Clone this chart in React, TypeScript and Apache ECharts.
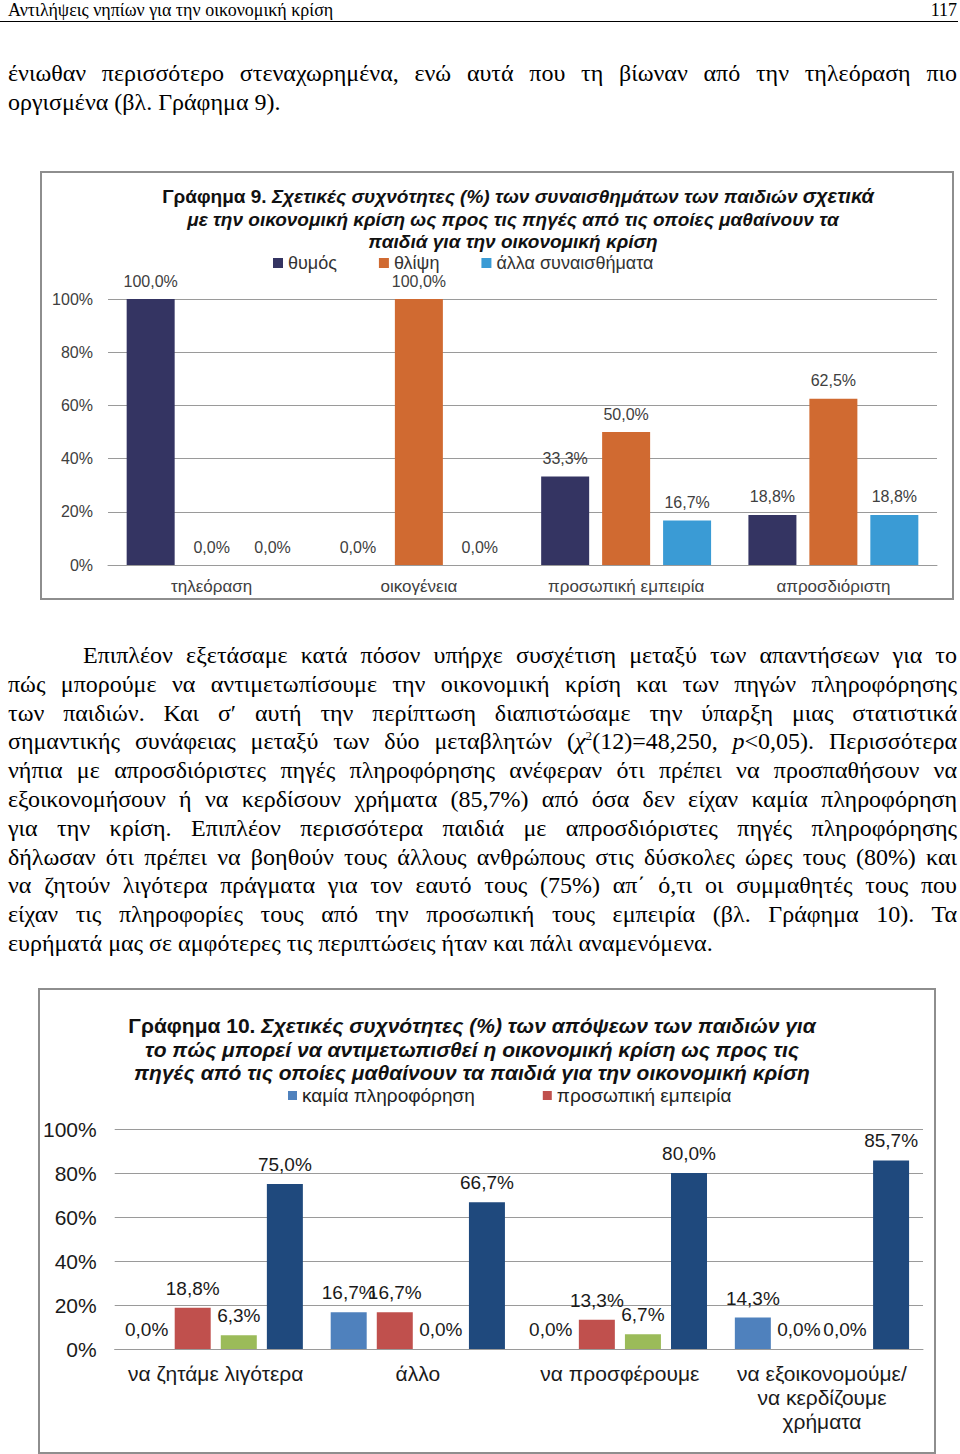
import React, { useEffect, useRef } from "react";
import * as echarts from "echarts";

// ---------- data ----------
const chart9Categories = ["τηλεόραση", "οικογένεια", "προσωπική εμπειρία", "απροσδιόριστη"];
const chart9SeriesNames = ["θυμός", "θλίψη", "άλλα συναισθήματα"];
const chart9Anger = [100, 0, 33.3, 18.8];
const chart9Sadness = [0, 100, 50, 62.5];
const chart9Other = [0, 0, 16.7, 18.8];

const chart10Categories = [
  "να ζητάμε λιγότερα",
  "άλλο",
  "να προσφέρουμε",
  "να εξοικονομούμε/\nνα κερδίζουμε\nχρήματα",
];
const chart10SeriesNames = ["καμία πληροφόρηση", "προσωπική εμπειρία", "οικογένεια", "απροσδιόριστη"];
const chart10NoInfo = [0, 16.7, 0, 14.3];
const chart10Personal = [18.8, 16.7, 13.3, 0];
const chart10Family = [6.3, 0, 6.7, 0];
const chart10Unspecified = [75, 66.7, 80, 85.7];

const yMin = 0;
const yMax = 100;
const yStep = 20;

// ---------- styles ----------
const SANS = '"Liberation Sans", Arial, sans-serif';
const NARROW = '"Liberation Sans Narrow", "Liberation Sans", Arial, sans-serif';
const SERIF = '"Liberation Serif", "Times New Roman", serif';

const fmt = (v: number) => v.toFixed(1).replace(".", ",") + "%";

function useChart(build: () => any) {
  const ref = useRef<HTMLDivElement>(null);
  useEffect(() => {
    if (!ref.current) return;
    const chart = echarts.init(ref.current, undefined, { renderer: "svg" });
    chart.setOption(build());
    return () => chart.dispose();
  }, []);
  return ref;
}

function titleLine(x: number, y: number, text: string, rich: any) {
  return {
    type: "text",
    x,
    y,
    style: {
      text,
      rich,
      align: "center",
      verticalAlign: "middle",
      textAlign: "center",
      textVerticalAlign: "middle",
      fill: "#111",
    },
  };
}

function chart9Option() {
  const rich = {
    a: { fontFamily: NARROW, fontSize: 19, fontWeight: "bold", fontStyle: "normal", color: "#111" },
    b: { fontFamily: NARROW, fontSize: 19, fontWeight: "bold", fontStyle: "italic", color: "#111" },
    c: { fontFamily: NARROW, fontSize: 20, fontWeight: "bold", fontStyle: "italic", color: "#000" },
  };
  const label = {
    show: true,
    position: "top",
    distance: 10,
    formatter: (p: any) => fmt(p.value),
    fontFamily: NARROW,
    fontSize: 16,
    color: "#404040",
  };
  const colors = ["#343462", "#D06A31", "#3A9BD5"];
  const values = [chart9Anger, chart9Sadness, chart9Other];
  return {
    animation: false,
    backgroundColor: "#fff",
    legend: {
      data: chart9SeriesNames,
      left: 231,
      top: 81,
      padding: 0,
      icon: "rect",
      itemWidth: 10,
      itemHeight: 10,
      itemGap: 42,
      textStyle: { fontFamily: NARROW, fontSize: 18, color: "#333" },
    },
    graphic: [
      titleLine(476, 23, "{a|Γράφημα 9. }{b|Σχετικές συχνότητες (%) των συναισθημάτων των παιδιών }{c|σχετικά}", rich),
      titleLine(471, 46, "{b|με την οικονομική κρίση ως προς τις πηγές από τις οποίες μαθαίνουν τα}", rich),
      titleLine(471, 68, "{b|παιδιά για την οικονομική κρίση}", rich),
    ],
    grid: { left: 66, right: 15, top: 126, bottom: 33 },
    xAxis: {
      type: "category",
      data: chart9Categories,
      axisTick: { show: false },
      axisLine: { lineStyle: { color: "#9a9a9a", width: 1 } },
      axisLabel: { fontFamily: NARROW, fontSize: 17, color: "#404040", margin: 13 },
    },
    yAxis: {
      type: "value",
      min: yMin,
      max: yMax,
      interval: yStep,
      axisLine: { show: false },
      axisTick: { show: false },
      axisLabel: { formatter: "{value}%", fontFamily: NARROW, fontSize: 16, color: "#404040", margin: 15 },
      splitLine: { lineStyle: { color: "#9a9a9a", width: 1 } },
    },
    series: chart9SeriesNames.map((name, i) => ({
      name,
      type: "bar",
      data: values[i],
      barWidth: 48,
      barGap: "27%",
      itemStyle: { color: colors[i] },
      label,
    })),
  };
}

function chart10Option() {
  const rich = {
    a: { fontFamily: SANS, fontSize: 21, fontWeight: "bold", fontStyle: "normal", color: "#111" },
    b: { fontFamily: SANS, fontSize: 21, fontWeight: "bold", fontStyle: "italic", color: "#111" },
  };
  const label = {
    show: true,
    position: "top",
    distance: 10,
    formatter: (p: any) => fmt(p.value),
    fontFamily: SANS,
    fontSize: 19,
    color: "#1a1a1a",
  };
  const colors = ["#4F81BD", "#C0504D", "#9BBB59", "#1F497D"];
  const values = [chart10NoInfo, chart10Personal, chart10Family, chart10Unspecified];
  return {
    animation: false,
    backgroundColor: "#fff",
    legend: {
      data: chart10SeriesNames.slice(0, 2),
      left: 248,
      top: 96,
      padding: 0,
      icon: "rect",
      itemWidth: 9,
      itemHeight: 9,
      itemGap: 68,
      textStyle: { fontFamily: SANS, fontSize: 19, color: "#222" },
    },
    graphic: [
      titleLine(432, 35, "{a|Γράφημα 10. }{b|Σχετικές συχνότητες (%) των απόψεων των παιδιών για}", rich),
      titleLine(432, 59, "{b|το πώς μπορεί να αντιμετωπισθεί η οικονομική κρίση ως προς τις}", rich),
      titleLine(432, 82, "{b|πηγές από τις οποίες μαθαίνουν τα παιδιά για την οικονομική κρίση}", rich),
    ],
    grid: { left: 73, right: 11, top: 139, bottom: 103 },
    xAxis: {
      type: "category",
      data: chart10Categories,
      axisTick: { show: false },
      axisLine: { lineStyle: { color: "#9a9a9a", width: 1 } },
      axisLabel: { fontFamily: SANS, fontSize: 21, lineHeight: 24, color: "#1a1a1a", margin: 12, interval: 0 },
    },
    yAxis: {
      type: "value",
      min: yMin,
      max: yMax,
      interval: yStep,
      axisLine: { show: false },
      axisTick: { show: false },
      axisLabel: { formatter: "{value}%", fontFamily: SANS, fontSize: 21, color: "#1a1a1a", margin: 18 },
      splitLine: { lineStyle: { color: "#9a9a9a", width: 1 } },
    },
    series: chart10SeriesNames.map((name, i) => ({
      name,
      type: "bar",
      data: values[i],
      barWidth: 36,
      barGap: "28%",
      itemStyle: { color: colors[i] },
      label,
    })),
  };
}

const lineStyle = (last: boolean, indent = 0): React.CSSProperties => ({
  textAlign: "justify",
  textAlignLast: last ? "left" : "justify",
  whiteSpace: "nowrap",
  textIndent: indent,
});

const para1: React.ReactNode[] = [
  "ένιωθαν περισσότερο στεναχωρημένα, ενώ αυτά που τη βίωναν από την τηλεόραση πιο",
  "οργισμένα (βλ. Γράφημα 9).",
];

const para2: React.ReactNode[] = [
  "Επιπλέον εξετάσαμε κατά πόσον υπήρχε συσχέτιση μεταξύ των απαντήσεων για το",
  "πώς μπορούμε να αντιμετωπίσουμε την οικονομική κρίση και των πηγών πληροφόρησης",
  "των παιδιών. Και σ′ αυτή την περίπτωση διαπιστώσαμε την ύπαρξη μιας στατιστικά",
  <>
    σημαντικής συνάφειας μεταξύ των δύο μεταβλητών (<i>χ</i>
    <sup style={{ fontSize: "0.55em", lineHeight: 0 }}>2</sup>(12)=48,250, <i>p</i>&lt;0,05). Περισσότερα
  </>,
  "νήπια με απροσδιόριστες πηγές πληροφόρησης ανέφεραν ότι πρέπει να προσπαθήσουν να",
  "εξοικονομήσουν ή να κερδίσουν χρήματα (85,7%) από όσα δεν είχαν καμία πληροφόρηση",
  "για την κρίση. Επιπλέον περισσότερα παιδιά με απροσδιόριστες πηγές πληροφόρησης",
  "δήλωσαν ότι πρέπει να βοηθούν τους άλλους ανθρώπους στις δύσκολες ώρες τους (80%) και",
  "να ζητούν λιγότερα πράγματα για τον εαυτό τους (75%) απ΄ ό,τι οι συμμαθητές τους που",
  "είχαν τις πληροφορίες τους από την προσωπική τους εμπειρία (βλ. Γράφημα 10). Τα",
  "ευρήματά μας σε αμφότερες τις περιπτώσεις ήταν και πάλι αναμενόμενα.",
];

const paraStyle = (top: number): React.CSSProperties => ({
  position: "absolute",
  left: 8,
  top,
  width: 949,
  fontFamily: SERIF,
  fontSize: 24,
  lineHeight: "28.8px",
  color: "#000",
});

export default function App() {
  const ref9 = useChart(chart9Option);
  const ref10 = useChart(chart10Option);
  return (
    <div
      style={{
        position: "absolute",
        left: 0,
        top: 0,
        width: 960,
        height: 1454,
        background: "#fff",
        overflow: "hidden",
      }}
    >
      <div
        style={{
          position: "absolute",
          left: 8,
          top: 0,
          fontFamily: SERIF,
          fontSize: 18,
          lineHeight: "20px",
          color: "#000",
        }}
      >
        Αντιλήψεις νηπίων για την οικονομική κρίση
      </div>
      <div
        style={{
          position: "absolute",
          right: 3,
          top: 0,
          fontFamily: SERIF,
          fontSize: 18,
          lineHeight: "20px",
          color: "#000",
        }}
      >
        117
      </div>
      <div style={{ position: "absolute", left: 0, top: 21, width: 958, height: 0, borderTop: "1.5px solid #000" }} />

      <div style={paraStyle(59)}>
        {para1.map((t, i) => (
          <div key={i} style={lineStyle(i === para1.length - 1)}>
            {t}
          </div>
        ))}
      </div>

      <div
        style={{
          position: "absolute",
          left: 40,
          top: 171,
          width: 914,
          height: 429,
          boxSizing: "border-box",
          border: "2px solid #8e8e8e",
          background: "#fff",
        }}
      >
        <div ref={ref9} style={{ width: 910, height: 425 }} />
      </div>

      <div style={paraStyle(641)}>
        {para2.map((t, i) => (
          <div key={i} style={lineStyle(i === para2.length - 1, i === 0 ? 75 : 0)}>
            {t}
          </div>
        ))}
      </div>

      <div
        style={{
          position: "absolute",
          left: 38,
          top: 988,
          width: 898,
          height: 466,
          boxSizing: "border-box",
          border: "2px solid #8e8e8e",
          background: "#fff",
        }}
      >
        <div ref={ref10} style={{ width: 894, height: 462 }} />
      </div>
    </div>
  );
}
